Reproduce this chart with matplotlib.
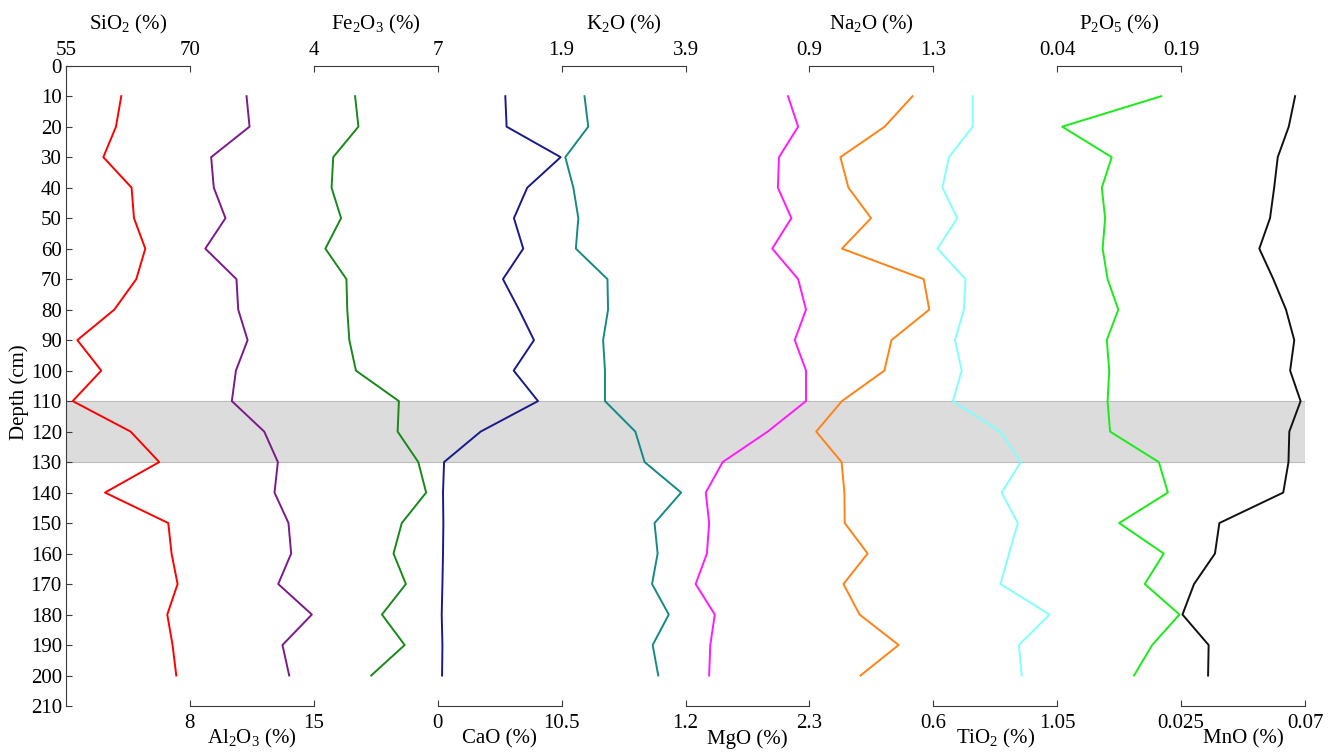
import numpy as np
import matplotlib.pyplot as plt

plt.rcParams['font.family'] = 'Liberation Serif'
plt.rcParams['mathtext.fontset'] = 'custom'
plt.rcParams['mathtext.rm'] = 'Liberation Serif'
plt.rcParams['mathtext.it'] = 'Liberation Serif:italic'
plt.rcParams['font.size'] = 15

depth = np.arange(10, 201, 10)

sio2 = [61.69, 61.05, 59.52, 62.94, 63.23, 64.60, 63.51, 60.85, 56.37, 59.27,
        55.81, 62.82, 66.29, 59.72, 67.38, 67.78, 68.51, 67.26, 67.90, 68.35]
al2o3 = [11.20, 11.37, 9.20, 9.35, 10.01, 8.87, 10.63, 10.73, 11.26, 10.60,
         10.37, 12.20, 12.97, 12.78, 13.57, 13.72, 12.99, 14.89, 13.23, 13.61]
fe2o3 = [5.00, 5.08, 4.47, 4.43, 4.66, 4.28, 4.79, 4.81, 4.86, 5.02,
         6.06, 6.03, 6.53, 6.72, 6.13, 5.93, 6.23, 5.65, 6.20, 5.39]
cao = [5.73, 5.84, 10.42, 7.59, 6.46, 7.25, 5.53, 6.89, 8.16, 6.44,
       8.50, 3.64, 0.54, 0.45, 0.48, 0.45, 0.40, 0.34, 0.40, 0.37]
k2o = [2.27, 2.33, 1.96, 2.09, 2.17, 2.13, 2.64, 2.65, 2.57, 2.60,
       2.60, 3.09, 3.24, 3.83, 3.40, 3.45, 3.36, 3.63, 3.37, 3.46]
mgo = [2.11, 2.20, 2.03, 2.02, 2.14, 1.97, 2.20, 2.27, 2.17, 2.27,
       2.27, 1.93, 1.53, 1.38, 1.41, 1.39, 1.29, 1.46, 1.42, 1.41]
na2o = [1.233, 1.143, 1.000, 1.026, 1.099, 1.005, 1.269, 1.287, 1.165, 1.142,
        1.005, 0.922, 1.004, 1.013, 1.014, 1.088, 1.010, 1.062, 1.188, 1.065]
tio2 = [0.743, 0.743, 0.657, 0.633, 0.687, 0.615, 0.717, 0.711, 0.679, 0.703,
        0.671, 0.843, 0.918, 0.848, 0.907, 0.875, 0.844, 1.022, 0.911, 0.921]
p2o5 = [0.166, 0.046, 0.106, 0.094, 0.098, 0.095, 0.101, 0.114, 0.100, 0.103,
        0.101, 0.104, 0.163, 0.174, 0.115, 0.169, 0.146, 0.188, 0.155, 0.133]
mno = [0.0664, 0.0641, 0.0601, 0.0588, 0.0573, 0.0534, 0.0585, 0.0631, 0.0661, 0.0646,
       0.0684, 0.0643, 0.0640, 0.0621, 0.0389, 0.0373, 0.0297, 0.0255, 0.0350, 0.0348]

# label, values, scale min, scale max, tick labels, side, colour
columns = [
    ("SiO$_2$ (%)", sio2, 55, 70, ["55", "70"], "top", "#ff0000"),
    ("Al$_2$O$_3$ (%)", al2o3, 8, 15, ["8", "15"], "bottom", "#7b1a8c"),
    ("Fe$_2$O$_3$ (%)", fe2o3, 4, 7, ["4", "7"], "top", "#17891a"),
    ("CaO (%)", cao, 0, 10.5, ["0", "10.5"], "bottom", "#1a1a8a"),
    ("K$_2$O (%)", k2o, 1.9, 3.9, ["1.9", "3.9"], "top", "#148a85"),
    ("MgO (%)", mgo, 1.2, 2.3, ["1.2", "2.3"], "bottom", "#ff1aff"),
    ("Na$_2$O (%)", na2o, 0.9, 1.3, ["0.9", "1.3"], "top", "#ff8214"),
    ("TiO$_2$ (%)", tio2, 0.6, 1.05, ["0.6", "1.05"], "bottom", "#80ffff"),
    ("P$_2$O$_5$ (%)", p2o5, 0.04, 0.19, ["0.04", "0.19"], "top", "#1aeb1a"),
    ("MnO (%)", mno, 0.025, 0.07, ["0.025", "0.07"], "bottom", "#111111"),
]

W, H = 1338, 754
fig = plt.figure(figsize=(W / 100, H / 100), dpi=100)
rect = [66 / W, 1 - 706 / H, (1305 - 66) / W, (706 - 65.7) / H]
spine_col = "#3a3a3a"

ax = fig.add_axes(rect)
ax.set_xlim(0, 10)
ax.set_ylim(210, 0)
ax.set_yticks(np.arange(0, 211, 10))
ax.axhspan(110, 130, facecolor="#dcdcdc", edgecolor="#bcbcbc", lw=0.8)
for s in ["top", "bottom", "right"]:
    ax.spines[s].set_visible(False)
ax.spines["left"].set_color(spine_col)
ax.spines["left"].set_bounds(0, 210)
ax.tick_params(axis="y", direction="in", length=4, pad=3, color=spine_col)
ax.tick_params(axis="x", bottom=False, labelbottom=False)
ax.set_ylabel("Depth (cm)")
ax.yaxis.set_label_coords(-0.038, 0.49)
ax.yaxis.label.set_verticalalignment("center")

n = len(columns)
for k, (label, vals, lo, hi, tlabels, side, col) in enumerate(columns):
    a = fig.add_axes(rect, sharey=ax)
    a.patch.set_visible(False)
    w = hi - lo
    a.set_xlim(lo - k * w, lo + (n - k) * w)
    a.plot(vals, depth, color=col, lw=1.4)
    for s in a.spines.values():
        s.set_visible(False)
    a.spines[side].set_visible(True)
    a.spines[side].set_bounds(lo, hi)
    a.spines[side].set_color(spine_col)
    a.xaxis.set_ticks_position(side)
    a.xaxis.set_label_position(side)
    a.set_xticks([lo, hi])
    a.set_xticklabels(tlabels)
    a.tick_params(axis="x", direction="in", length=4,
                  pad=4 if side == "top" else 6, color=spine_col)
    a.tick_params(axis="y", left=False, labelleft=False)
    a.set_xlabel(label)
    ypos = 1.064 if side == "top" else -0.051
    a.xaxis.set_label_coords((k + 0.5) / n, ypos)
    a.xaxis.label.set_verticalalignment("center")

fig.savefig("out.png", dpi=100)
